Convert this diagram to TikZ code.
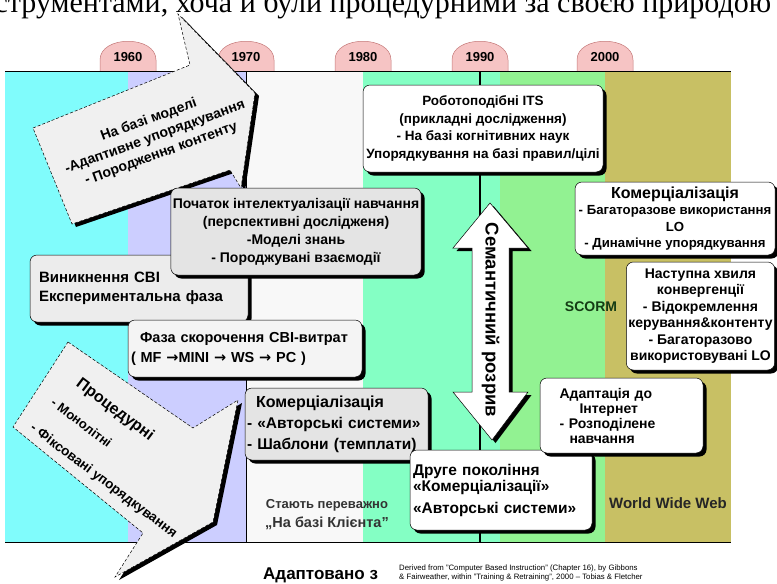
\documentclass[tikz,border=0pt]{standalone}
\usepackage{fontspec}
\setmainfont{Liberation Sans}
\newfontfamily\pageserif{Liberation Serif}
\newfontfamily\arrowglyph{DejaVu Sans}
\usetikzlibrary{shadows}
\definecolor{cyanband}{RGB}{128,252,252}
\definecolor{lavband}{RGB}{204,206,255}
\definecolor{paleband}{RGB}{248,248,248}
\definecolor{mintband}{RGB}{132,255,196}
\definecolor{greenband}{RGB}{146,242,146}
\definecolor{oliveband}{RGB}{200,192,100}
\definecolor{yearpink}{RGB}{246,196,196}
\definecolor{yearline}{RGB}{196,120,120}
\definecolor{boxgray}{RGB}{228,228,228}
\definecolor{calloutgray}{RGB}{240,240,240}
\definecolor{scormgreen}{RGB}{20,60,20}
\newcommand{\boxsize}[2]{\fontsize{#1}{#2}\selectfont}

\begin{document}
\begin{tikzpicture}[x=1pt, y=-1pt, every node/.style={font=\bfseries\boxsize{14}{17}},
	tlbox/.style={draw=black, line width=0.5pt, rounded corners=7pt, inner sep=2pt, general shadow={fill=black, shadow xshift=3.5pt, shadow yshift=-3.5pt}},
	callout/.style={draw=black, densely dashed, line width=0.5pt, fill=calloutgray, general shadow={fill=black, shadow xshift=4pt, shadow yshift=-3pt}},
	gaparrow/.style={draw=black, line width=0.5pt, fill=white, general shadow={fill=black, shadow xshift=3.5pt, shadow yshift=-3pt}},
	yearbump/.style={fill=yearpink, draw=yearline, line width=0.5pt},
	period/.style={draw=black, line width=1.4pt}]
	\useasboundingbox (0,0) rectangle (777,584);
	\begin{scope}
		\clip (0,0) rectangle (777,584);
		\node[font=\pageserif\boxsize{30}{30}, anchor=base west, inner sep=0pt] (pagetext) at (-30,12) {інструментами, хоча й були процедурними за своєю природою};
	\end{scope}

	\fill[cyanband] (5,71) rectangle (128,542);
	\fill[lavband] (128,71) rectangle (246,542);
	\fill[paleband] (246,71) rectangle (363,542);
	\fill[mintband] (363,71) rectangle (500,542);
	\fill[greenband] (500,71) rectangle (605,542);
	\fill[oliveband] (605,71) rectangle (731,542);
	\foreach \yr/\xc in {1960/128,1970/246,1980/363,1990/480,2000/605}{
		\filldraw[yearbump] (\xc-28,71) -- (\xc-28,60) .. controls (\xc-28,35) and (\xc+28,35) .. (\xc+28,60) -- (\xc+28,71);
		\node[font=\bfseries\boxsize{13}{13}] (y\yr) at (\xc,57) {\yr};
	}
	\draw[line width=0.6pt] (5,71) -- (731,71);
	\draw[line width=0.6pt] (5,542) -- (731,542);
	\draw[line width=1pt] (246,71) -- (246,542);
	\draw[period] (480,71) -- (480,542);

	\path[callout] (33,128) -- (190,65) -- (178,14) -- (255,93) -- (241,188) -- (230,170) -- (72,224) -- cycle;
	\node[rotate=20, align=center, font=\bfseries\boxsize{14}{18}] (modelbased) at (155,137) {На базі моделі\\-Адаптивне упорядкування\\- Породження контенту};

	\node[tlbox, fill=boxgray!70, minimum width=218pt, minimum height=67pt, text width=200pt, align=left, font=\bfseries\boxsize{15}{19}] (emerge) at (139,288.5) {Виникнення CBI\\Експериментальна фаза};
	\node[tlbox, fill=boxgray, minimum width=248pt, minimum height=87pt, align=center, font=\bfseries\boxsize{14}{18}] (intel) at (296,231.5) {Початок інтелектуалізації навчання\\(перспективні дослідженя)\\-Моделі знань\\- Породжувані взаємодії};
	\node[tlbox, fill=boxgray!40, minimum width=234pt, minimum height=57pt, text width=228pt, align=left, font=\bfseries\boxsize{14.5}{20}] (cost) at (245,348.5) {\hspace*{9pt}Фаза скорочення CBI-витрат\\( MF {\arrowglyph →}MINI {\arrowglyph →} WS {\arrowglyph →} PC )};

	\path[callout] (68,342) -- (193,428) -- (238,400) -- (213,522) -- (115,577) -- (143,533) -- (13,427) -- cycle;
	\node[rotate=-37, anchor=west, font=\bfseries\boxsize{16}{16}] (procedural) at (75,380) {Процедурні};
	\node[rotate=-37, anchor=west, font=\bfseries\boxsize{13}{13}] (monolith) at (50,399) {- Монолітні};
	\node[rotate=-37, anchor=west, font=\bfseries\boxsize{13.5}{13.5}] (fixedseq) at (29,425) {- Фіксовані упорядкування};

	\node[tlbox, fill=boxgray, minimum width=183pt, minimum height=72pt, text width=179pt, align=left, font=\bfseries\boxsize{15.5}{21}] (commerce) at (336.5,424) {\hspace*{9pt}{\boxsize{16}{21}Комерціалізація}\\- «Авторські системи»\\- Шаблони (темплати)};
	\node[tlbox, fill=white, minimum width=240pt, minimum height=87pt, align=center, font=\bfseries\boxsize{13.5}{17.5}] (its) at (483,128.5) {Роботоподібні ITS\\(прикладні дослідження)\\- На базі когнітивних наук\\Упорядкування на базі правил/цілі};

	\path[gaparrow] (490,203) -- (528,248) -- (509,248) -- (509,392) -- (528,392) -- (492,440) -- (453,392) -- (472,392) -- (472,248) -- (453,248) -- cycle;
	\node[rotate=-90, font=\bfseries\boxsize{18.5}{18.5}] (gap) at (490.5,320) {Семантичний розрив};

	\node[tlbox, fill=white, minimum width=182pt, minimum height=80pt, text width=176pt, align=left, font=\bfseries\boxsize{15.5}{16}] (secondgen) at (501,490) {Друге покоління\\«Комерціалізації»\\[6pt]«Авторські системи»};
	\node[tlbox, fill=white, minimum width=163pt, minimum height=75pt, text width=124pt, align=left, font=\bfseries\boxsize{14}{15}] (internet) at (621.5,415.5) {Адаптація до\\\hspace*{20pt}Інтернет\\- Розподілене\\\hspace*{10pt}навчання};
	\node[tlbox, fill=white, minimum width=200pt, minimum height=73pt, align=center, font=\bfseries\boxsize{13.2}{16.5}] (reuse) at (675,218.5) {{\boxsize{16}{16.5}Комерціалізація}\\- Багаторазове використання\\LO\\- Динамічне упорядкування};
	\node[tlbox, fill=white, minimum width=145pt, minimum height=108pt, align=center, font=\bfseries\boxsize{14}{16.5}] (wave) at (700.5,316) {Наступна хвиля\\конвергенції\\- Відокремлення\\керування\&контенту\\- Багаторазово\\використовувані LO};

	\node[font=\bfseries\boxsize{14}{14}, text=scormgreen] (scorm) at (591,307) {SCORM};
	\node[font=\bfseries\boxsize{15}{15}, text=black!85] (www) at (668,503) {World Wide Web};
	\node[font=\bfseries\boxsize{13}{13}, text=black!80] (client) at (327,505) {Стають переважно};
	\node[font=\bfseries\boxsize{14.5}{14.5}, text=black!80] (clientbased) at (327,523) {„На базі Клієнта"};
	\node[font=\bfseries\boxsize{17}{17}, anchor=west, inner sep=0pt] (adapted) at (263,575) {Адаптовано з};
	\node[font=\boxsize{7.8}{8.7}, anchor=west, align=left, inner sep=0pt] (source) at (399,573) {Derived from "Computer Based Instruction" (Chapter 16), by Gibbons\\\& Fairweather, within "Training \& Retraining", 2000 -- Tobias \& Fletcher};
\end{tikzpicture}
\end{document}
